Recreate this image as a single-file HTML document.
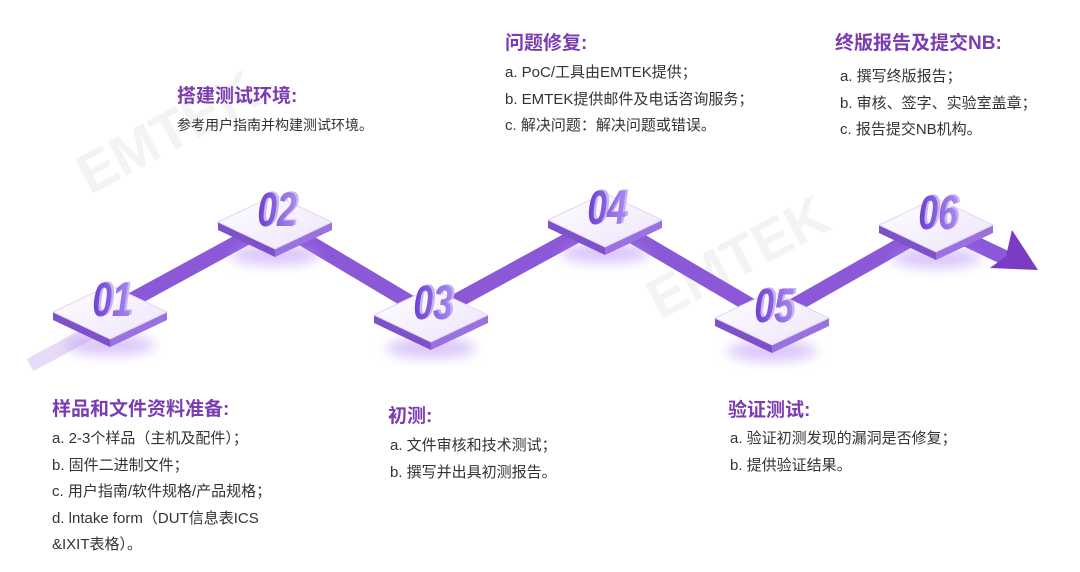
<!DOCTYPE html>
<html><head><meta charset="utf-8"><style>
body{margin:0;width:1080px;height:572px;background:#fff;position:relative;overflow:hidden;font-family:"Liberation Sans","Noto Sans CJK SC",sans-serif}
.t{position:absolute;color:#7a3cb0;font-weight:bold;font-size:19px;white-space:nowrap}
.b{position:absolute;color:#333;font-size:15px;line-height:26.5px;white-space:nowrap}
svg{position:absolute;left:0;top:0}
</style></head><body>
<svg width="1080" height="572" viewBox="0 0 1080 572">
<defs>
<linearGradient id="top" x1="0" y1="0" x2="1" y2="1"><stop offset="0" stop-color="#ffffff"/><stop offset="1" stop-color="#eee4fb"/></linearGradient>
<linearGradient id="num" x1="0" y1="0" x2="1" y2="0"><stop offset="0" stop-color="#6d3fd0"/><stop offset="1" stop-color="#a98af0"/></linearGradient>
<filter id="gl" x="-50%" y="-50%" width="200%" height="200%"><feGaussianBlur stdDeviation="6"/></filter>
</defs>
<g fill="#f3f3f3" font-size="56" font-weight="bold" font-family="Liberation Sans">
<text x="90" y="195" transform="rotate(-28 90 195)">EMTEK</text>
<text x="660" y="320" transform="rotate(-28 660 320)">EMTEK</text>
</g>
<line x1="30" y1="365" x2="110" y2="322" stroke="#e6dcf7" stroke-width="14"/>
<g stroke="#8b58d8" stroke-width="15" stroke-linecap="butt">
<line x1="110" y1="312" x2="275" y2="222"/>
<line x1="275" y1="222" x2="431" y2="315"/>
<line x1="431" y1="315" x2="605" y2="220"/>
<line x1="605" y1="220" x2="772" y2="318"/>
<line x1="772" y1="318" x2="936" y2="225"/>
<line x1="936" y1="225" x2="1010" y2="260"/>
</g>
<polygon points="1012,230 1038,270 990,268 1006,256" fill="#7b3cc4"/>
<g id="nodes"></g>
</svg>
<script>
var c=[[110,312,'01'],[275,222,'02'],[431,315,'03'],[605,220,'04'],[772,318,'05'],[936,225,'06']];
var s='';
c.forEach(function(p){var x=p[0],y=p[1],w=57,h=27,d=8;
s+='<ellipse cx="'+x+'" cy="'+(y+h+6)+'" rx="45" ry="10" fill="#b58cf5" opacity="0.5" filter="url(#gl)"/>';
s+='<polygon points="'+(x-w)+','+y+' '+x+','+(y+h)+' '+x+','+(y+h+d)+' '+(x-w)+','+(y+d)+'" fill="#7d52c9"/>';
s+='<polygon points="'+(x+w)+','+y+' '+x+','+(y+h)+' '+x+','+(y+h+d)+' '+(x+w)+','+(y+d)+'" fill="#9a72e0"/>';
s+='<polygon points="'+(x-w)+','+y+' '+x+','+(y-h)+' '+(x+w)+','+y+' '+x+','+(y+h)+'" fill="url(#top)" stroke="#e2d6f5" stroke-width="1"/>';
var tr='transform="translate('+(x+2)+','+(y+4)+') scale(0.8,1.1)"';
s+='<text '+tr+' x="3" y="-1" font-family="Liberation Sans" font-style="italic" font-weight="bold" font-size="44" fill="#c9b3f3" text-anchor="middle">'+p[2]+'</text>';
s+='<text '+tr+' x="0" y="0" font-family="Liberation Sans" font-style="italic" font-weight="bold" font-size="44" fill="url(#num)" text-anchor="middle">'+p[2]+'</text>';
});
document.getElementById('nodes').innerHTML=s;
</script>
<div class="t" style="left:177px;top:81px">搭建测试环境:</div>
<div class="b" style="left:177px;top:112px;font-size:14px">参考用户指南并构建测试环境。</div>
<div class="t" style="left:505px;top:28px">问题修复:</div>
<div class="b" style="left:505px;top:60px">a. PoC/工具由EMTEK提供；<br>b. EMTEK提供邮件及电话咨询服务；<br>c. 解决问题：解决问题或错误。</div>
<div class="t" style="left:835px;top:28px">终版报告及提交NB:</div>
<div class="b" style="left:840px;top:64px">a. 撰写终版报告；<br>b. 审核、签字、实验室盖章；<br>c. 报告提交NB机构。</div>
<div class="t" style="left:52px;top:394px">样品和文件资料准备:</div>
<div class="b" style="left:52px;top:426px">a. 2-3个样品（主机及配件）；<br>b. 固件二进制文件；<br>c. 用户指南/软件规格/产品规格；<br>d. lntake form（DUT信息表ICS<br>&amp;IXIT表格）。</div>
<div class="t" style="left:388px;top:401px">初测:</div>
<div class="b" style="left:390px;top:433px">a. 文件审核和技术测试；<br>b. 撰写并出具初测报告。</div>
<div class="t" style="left:728px;top:395px">验证测试:</div>
<div class="b" style="left:730px;top:426px">a. 验证初测发现的漏洞是否修复；<br>b. 提供验证结果。</div>
</body></html>
